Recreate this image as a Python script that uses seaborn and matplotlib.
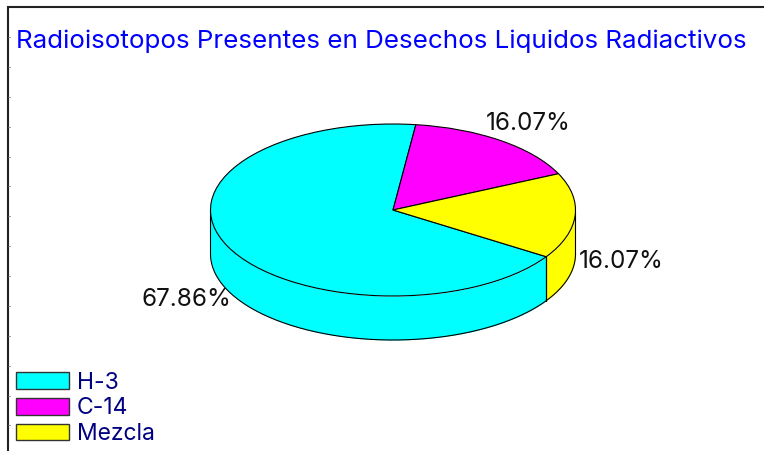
import numpy as np
import matplotlib
matplotlib.use("Agg")
import matplotlib.pyplot as plt
from matplotlib.patches import Patch
import seaborn as sns

title = "Radioisotopos Presentes en Desechos Liquidos Radiactivos"
categories = ["H-3", "C-14", "Mezcla"]
values = [67.86, 16.07, 16.07]
labels = ["67.86%", "16.07%", "16.07%"]
colors = ["#00ffff", "#ff00ff", "#ffff00"]
tick_rows = [37, 67, 97, 127, 157, 186, 216, 246, 276, 306, 336, 366, 396, 425]

W, H = 764, 451
sns.set_theme(style="white")
plt.rcParams["font.family"] = ["Inter", "Liberation Sans", "DejaVu Sans"]
palette = sns.color_palette(colors)

fig = plt.figure(figsize=(W / 100, H / 100), dpi=100, facecolor="white")

bg = fig.add_axes([0, 0, 1, 1])
bg.set_xlim(0, W)
bg.set_ylim(H, 0)
bg.axis("off")
bg.plot([8, 8, W], [H, 7, 7], color="#222222", lw=1.5, solid_joinstyle="miter")
for r in tick_rows:
    bg.plot([8, 10], [r, r], color="#777777", lw=0.6)
bg.text(16, 41, title, color="#0000ff", fontsize=18.7, va="center", ha="left")

# pie axes: one data unit = radius
cx, cy, rx, ry, depth = 393, 210, 182.5, 86, 44
top, bottom = 1.2, 1.8
ax = fig.add_axes([(cx - 1.2 * rx) / W, 1 - (cy + bottom * ry) / H,
                   2.4 * rx / W, (top + bottom) * ry / H])
ax.patch.set_alpha(0)
d = depth / ry
start = -32.9
edges = start - np.cumsum([0] + values) * 3.6

# side wall: the part of each slice on the near side of the pie
for i, c in enumerate(palette):
    for turn in (0, 360):
        lo, hi = max(edges[i + 1] + turn, -180), min(edges[i] + turn, 0)
        if hi > lo:
            t = np.radians(np.linspace(lo, hi, 200))
            x, y = np.cos(t), np.sin(t)
            ax.fill_between(x, y, y - d, color=c, lw=0, zorder=1)
            ax.plot(x, y - d, color="black", lw=0.8, zorder=2)
            for tt in (t[0], t[-1]):
                ax.plot([np.cos(tt)] * 2, [np.sin(tt), np.sin(tt) - d], color="black", lw=0.8, zorder=2)

ax.pie(values, colors=palette, startangle=start, counterclock=False, radius=1,
       wedgeprops=dict(edgecolor="black", linewidth=0.8, zorder=3))
ax.set_aspect("auto")
ax.set_xlim(-1.2, 1.2)
ax.set_ylim(-bottom, top)
ax.axis("off")

bg.text(186, 299, labels[0], color="#111111", fontsize=17.5, ha="center", va="center")
bg.text(528, 124, labels[1], color="#111111", fontsize=17.5, ha="center", va="center")
bg.text(621, 261, labels[2], color="#111111", fontsize=17.5, ha="center", va="center")

handles = [Patch(facecolor=c, edgecolor="#333333", linewidth=1.0) for c in palette]
fig.legend(handles, categories, loc="lower left", bbox_to_anchor=(16 / W, 1 - 445 / H),
           frameon=False, fontsize=16.5, labelcolor="#000080", handlelength=2.31,
           handleheight=0.74, handletextpad=0.35, labelspacing=0.16,
           borderpad=0, borderaxespad=0)
fig.savefig("out.png", dpi=100, facecolor="white")
